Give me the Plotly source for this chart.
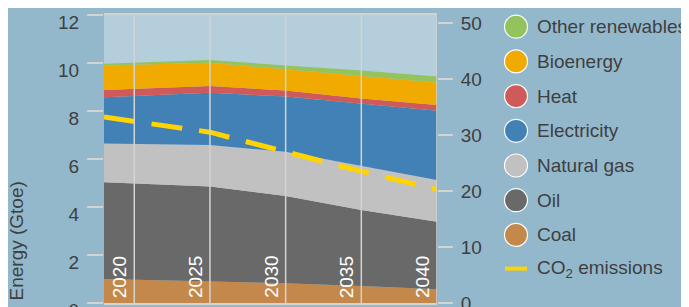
import plotly.graph_objects as go

# ---- data ----
years = [2018, 2025, 2030, 2035, 2040]
coal = [1.00, 0.90, 0.82, 0.71, 0.57]
oil = [4.03, 3.95, 3.64, 3.17, 2.82]
natural_gas = [1.62, 1.73, 1.84, 1.85, 1.74]
electricity = [1.92, 2.18, 2.30, 2.57, 2.88]
heat = [0.30, 0.28, 0.25, 0.22, 0.24]
bioenergy = [1.03, 0.97, 0.89, 0.95, 0.94]
other_renewables = [0.07, 0.11, 0.16, 0.22, 0.25]
co2_emissions = [33.2, 30.5, 27.0, 23.5, 20.3]

grid_years = [2020, 2025, 2030, 2035, 2040]
left_ticks = [0, 2, 4, 6, 8, 10, 12]
right_ticks = [0, 10, 20, 30, 40, 50]

series_names = ["Coal", "Oil", "Natural gas", "Electricity", "Heat", "Bioenergy", "Other renewables"]
series_values = [coal, oil, natural_gas, electricity, heat, bioenergy, other_renewables]
series_colors = ["#c4884b", "#696969", "#c1c1c1", "#4181b6", "#d05a5a", "#f0aa00", "#93c35c"]
co2_name = "CO<sub>2</sub> emissions"
co2_color = "#ffd400"

# ---- layout constants (page has an 8px body offset) ----
OFF = 8
W, H = 689 - OFF, 307 - OFF
L, T = 104 - OFF, 15 - OFF
PR, PB = 437 - OFF, 303 - OFF
R, B = W - PR, H - PB
PW, PH = PR - L, PB - T
FONT = "Liberation Sans"
TXT = "#3f3f3f"
GRID = "#d3d3d3"

fig = go.Figure()
for name, vals, col in zip(series_names, series_values, series_colors):
    fig.add_trace(go.Scatter(x=years, y=vals, name=name, stackgroup="e",
                             mode="lines", line=dict(width=0, color=col),
                             fillcolor=col, showlegend=False, hoverinfo="skip"))
fig.add_trace(go.Scatter(x=years, y=co2_emissions, name="CO2 emissions", yaxis="y2",
                         mode="lines", line=dict(color=co2_color, width=5, dash="31px,17px"),
                         showlegend=False))

shapes = []
for yr in grid_years:
    shapes.append(dict(type="line", xref="x", yref="paper", x0=yr, x1=yr, y0=0, y1=1,
                       line=dict(color=GRID, width=1.5), layer="above"))

annotations = []
for yr in grid_years:
    annotations.append(dict(x=yr, y=0, xref="x", yref="paper", text=str(yr), showarrow=False,
                            textangle=-90, xanchor="center", yanchor="bottom", xshift=-15, yshift=3,
                            font=dict(family=FONT, size=19, color="white")))


def px_x(x):
    return (x - OFF - L) / PW


def px_y(y):
    return (PB - (y - OFF)) / PH


annotations.append(dict(x=px_x(16), y=px_y(303), xref="paper", yref="paper", text="Energy (Gtoe)",
                        showarrow=False, textangle=-90, xanchor="center", yanchor="bottom",
                        font=dict(family=FONT, size=19, color=TXT)))

# manual legend (top to bottom: reversed stack, then CO2)
leg_items = list(zip(series_names, series_colors))[::-1]
cx = px_x(516)
tx = px_x(535)
y0px, dy = 26.7, 34.7
for i, (name, col) in enumerate(leg_items):
    yp = px_y(y0px + i * dy)
    shapes.append(dict(type="circle", xref="paper", yref="paper", xsizemode="pixel", ysizemode="pixel",
                       xanchor=cx, yanchor=yp, x0=-11.5, x1=11.5, y0=-11.5, y1=11.5,
                       fillcolor=col, line=dict(color="white", width=1.2)))
    annotations.append(dict(x=tx, y=yp, xref="paper", yref="paper", text=name, showarrow=False,
                            xanchor="left", yanchor="middle", font=dict(family=FONT, size=19, color=TXT)))
yp = px_y(y0px + len(leg_items) * dy - 1)
shapes.append(dict(type="line", xref="paper", yref="paper", xsizemode="pixel", ysizemode="pixel",
                   xanchor=cx, yanchor=yp, x0=-11, x1=11, y0=0, y1=0,
                   line=dict(color=co2_color, width=4)))
annotations.append(dict(x=tx, y=yp, xref="paper", yref="paper", text=co2_name, showarrow=False,
                        xanchor="left", yanchor="middle", font=dict(family=FONT, size=19, color=TXT)))

fig.update_layout(
    width=W, height=H, margin=dict(l=L, r=R, t=T, b=B, autoexpand=False),
    paper_bgcolor="#93b8cc", plot_bgcolor="#b5cedb",
    showlegend=False,
    font=dict(family=FONT, size=19, color=TXT),
    xaxis=dict(range=[2018, 2040], showgrid=False, showticklabels=False, ticks="",
               showline=True, mirror=True, linecolor=GRID, linewidth=1.5, zeroline=False),
    yaxis=dict(range=[0, 12], tickvals=left_ticks, showgrid=False, zeroline=False,
               ticks="outside", ticklen=16, tickcolor=GRID, tickwidth=1.5,
               ticklabelshift=7, ticklabelstandoff=4, automargin=False,
               ticklabeloverflow="allow", showline=False),
    yaxis2=dict(range=[0, PH / 5.6], tickvals=right_ticks, overlaying="y", side="right",
                showgrid=False, zeroline=False, ticks="outside", ticklen=15, automargin=False,
                ticklabeloverflow="allow",
                tickcolor=GRID, tickwidth=1.5, ticklabelstandoff=4, showline=False),
    shapes=shapes, annotations=annotations,
)

fig.write_html("out.html")
